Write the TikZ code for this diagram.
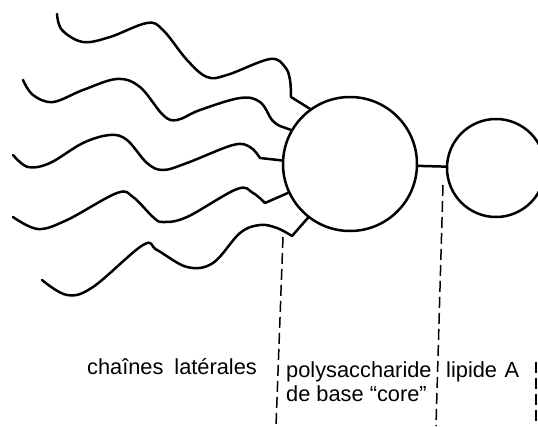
\documentclass[tikz,border=0pt]{standalone}
\usepackage{fontspec}
\setmainfont{Liberation Sans}
\begin{document}
\begin{tikzpicture}[x=1pt,y=-1pt,
  stroke/.style={line width=2.5pt,line join=round,line cap=round},
  ring/.style={circle,draw,line width=2.5pt,inner sep=0pt},
  divider/.style={line width=1.5pt,dash pattern=on 11pt off 5pt},
  lbl/.style={inner sep=0pt,font=\fontsize{21.8}{26}\selectfont}]
\useasboundingbox (0,0) rectangle (538,426);
\node[ring,minimum size=134pt] (core) at (350,164) {};
\node[ring,minimum size=98pt] (lipid) at (496,168) {};
\draw[stroke] (core) -- (lipid);
% side chains
\coordinate (s1) at (57,14);
\coordinate (s2) at (23,80);
\coordinate (s3) at (13,155);
\coordinate (s4) at (13,217);
\coordinate (s5) at (42,280);
\draw[stroke] plot[smooth,tension=0.6] coordinates {(s1) (62,30) (83,42) (110,37) (147,23) (163,30) (187,60) (207,77) (227,75) (270,59) (285,67) (290,80) (291,97)} -- (core.126.5);
\draw[stroke] plot[smooth,tension=0.6] coordinates {(s2) (33,95) (53,102) (83,90) (117,79) (140,87) (163,115) (177,120) (200,110) (240,98) (260,102) (272,120) (280,126)} -- (core.150);
\draw[stroke] plot[smooth,tension=0.6] coordinates {(s3) (28,167) (50,163) (83,143) (110,135) (127,140) (147,163) (163,170) (187,163) (233,145) (250,147) (260,158)} -- (core.177.5);
\draw[stroke] plot[smooth,tension=0.6] coordinates {(s4) (38,229) (67,220) (117,193) (133,197) (153,217) (163,222) (187,217) (237,189) (253,193) (265,203)} -- (core.205);
\draw[stroke] plot[smooth,tension=0.6] coordinates {(s5) (67,295) (93,287) (143,245) (157,250) (187,267) (213,263) (240,233) (260,225) (277,228) (292,236)} -- (core.232);
% dividers
\coordinate (d1a) at (283,237); \coordinate (d1b) at (276,426);
\coordinate (d2a) at (443,185); \coordinate (d2b) at (436,426);
\coordinate (d3a) at (536,362); \coordinate (d3b) at (536,426);
\draw[divider] (d1a) -- (d1b);
\draw[divider] (d2a) -- (d2b);
\draw[divider] (d3a) -- (d3b);
% labels
\node[lbl,anchor=base] (t1) at (172,374) {chaînes\hspace{0.5em}latérales};
\node[lbl,anchor=base west] (t2) at (286,377) {polysaccharide};
\node[lbl,anchor=base west] (t3) at (286,401) {de base “core”};
\node[lbl,anchor=base west] (t4) at (446,377) {lipide\hspace{0.35em}A};
\end{tikzpicture}
\end{document}
